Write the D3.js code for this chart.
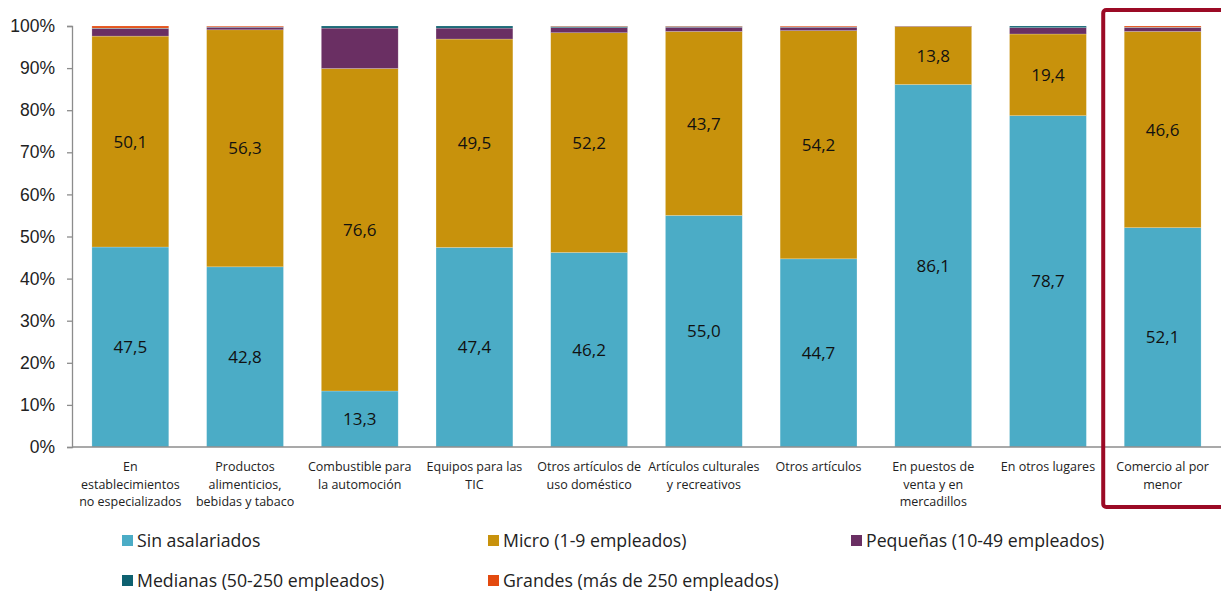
<!DOCTYPE html>
<html>
<head>
<meta charset="utf-8">
<script src="https://cdn.jsdelivr.net/npm/d3@7/dist/d3.min.js"></script>
<style>
  body { margin: 0; background: #fff; }
  svg { display: block; font-family: "Open Sans", "Noto Sans", sans-serif; }
</style>
</head>
<body>
<svg id="chart" width="1221" height="592"></svg>
<script>
// Categorías de comercio al por menor
const categories = [
  "En establecimientos no especializados",
  "Productos alimenticios, bebidas y tabaco",
  "Combustible para la automoción",
  "Equipos para las TIC",
  "Otros artículos de uso doméstico",
  "Artículos culturales y recreativos",
  "Otros artículos",
  "En puestos de venta y en mercadillos",
  "En otros lugares",
  "Comercio al por menor"
];
// Líneas de cada etiqueta del eje X
const categoryLines = [
  ["En", "establecimientos", "no especializados"],
  ["Productos", "alimenticios,", "bebidas y tabaco"],
  ["Combustible para", "la automoción"],
  ["Equipos para las", "TIC"],
  ["Otros artículos de", "uso doméstico"],
  ["Artículos culturales", "y recreativos"],
  ["Otros artículos"],
  ["En puestos de", "venta y en", "mercadillos"],
  ["En otros lugares"],
  ["Comercio al por", "menor"]
];

const seriesNames = [
  "Sin asalariados",
  "Micro (1-9 empleados)",
  "Pequeñas (10-49 empleados)",
  "Medianas (50-250 empleados)",
  "Grandes (más de 250 empleados)"
];
const seriesColors = ["#4bacc6", "#c8920c", "#6a2f63", "#0e6170", "#e34a0f"];

// Porcentaje de empresas por tamaño
const sinAsalariados = [47.5, 42.8, 13.3, 47.4, 46.2, 55.0, 44.7, 86.1, 78.7, 52.1];
const micro          = [50.1, 56.3, 76.6, 49.5, 52.2, 43.7, 54.2, 13.8, 19.4, 46.6];
const pequenas       = [1.8, 0.6, 9.6, 2.6, 1.2, 1.0, 0.8, 0.1, 1.5, 0.9];
const medianas       = [0.1, 0.1, 0.5, 0.5, 0.3, 0.2, 0.1, 0.0, 0.4, 0.1];
const grandes        = [0.5, 0.2, 0.0, 0.0, 0.1, 0.1, 0.2, 0.0, 0.0, 0.3];

const yTicks = [0, 10, 20, 30, 40, 50, 60, 70, 80, 90, 100];
const labelledSeries = [0, 1]; // series with value labels

const seriesValues = [sinAsalariados, micro, pequenas, medianas, grandes];
const keys = ["s0", "s1", "s2", "s3", "s4"];
const table = categories.map((c, i) => {
  const row = { cat: c };
  keys.forEach((k, j) => row[k] = seriesValues[j][i]);
  return row;
});

const svg = d3.select("#chart");
const margin = { left: 72, right: 1, top: 26, bottom: 145 };
const W = 1221, H = 592;
const x = d3.scaleBand().domain(categories).range([margin.left + 1, W - margin.right]).paddingInner(0.33).paddingOuter(0.165);
const y = d3.scaleLinear().domain([0, 100]).range([H - margin.bottom, margin.top]);

const stack = d3.stack().keys(keys);
const stacked = stack(table);
const fmt = v => d3.format(".1f")(v).replace(".", ",");

// Barras apiladas
const g = svg.append("g");
g.selectAll("g.serie").data(stacked).join("g")
  .attr("class", "serie")
  .attr("fill", (d, i) => seriesColors[i])
  .selectAll("rect").data(d => d).join("rect")
  .attr("x", d => x(d.data.cat))
  .attr("width", x.bandwidth())
  .attr("y", d => y(d[1]))
  .attr("height", d => Math.max(0, y(d[0]) - y(d[1])))
  .attr("stroke", "rgba(255,255,255,0.35)")
  .attr("stroke-width", 0.6);

// Etiquetas de valor
labelledSeries.forEach(si => {
  g.append("g").selectAll("text").data(stacked[si]).join("text")
    .attr("x", d => x(d.data.cat) + x.bandwidth() / 2)
    .attr("y", d => y((d[0] + d[1]) / 2))
    .attr("dy", "0.36em")
    .attr("text-anchor", "middle")
    .attr("font-size", 17)
    .attr("fill", "#111")
    .text(d => fmt(d[1] - d[0]));
});

// Eje Y
const yAxis = d3.axisLeft(y).tickValues(yTicks).tickSize(5).tickPadding(12).tickFormat(d => d + "%");
const yg = svg.append("g").attr("transform", `translate(${margin.left},0)`).call(yAxis);
yg.select(".domain").attr("stroke", "#8c8c8c").attr("stroke-width", 1.3);
yg.selectAll(".tick line").attr("stroke", "#8c8c8c").attr("stroke-width", 1.3);
yg.selectAll(".tick text").attr("font-size", 17.5).attr("fill", "#222").attr("font-family", "inherit");

// Eje X
svg.append("line")
  .attr("x1", margin.left).attr("x2", W)
  .attr("y1", y(0)).attr("y2", y(0))
  .attr("stroke", "#8c8c8c").attr("stroke-width", 1.5);

const xl = svg.append("g");
categories.forEach((c, i) => {
  const t = xl.append("text")
    .attr("x", x(c) + x.bandwidth() / 2)
    .attr("y", y(0) + 24)
    .attr("text-anchor", "middle")
    .attr("font-size", 12.5)
    .attr("fill", "#222");
  categoryLines[i].forEach((ln, j) => {
    t.append("tspan").attr("x", x(c) + x.bandwidth() / 2).attr("dy", j === 0 ? 0 : 17.5).text(ln);
  });
});

// Recuadro del total
const last = categories[categories.length - 1];
svg.append("rect")
  .attr("x", x(last) - 21)
  .attr("y", 10)
  .attr("width", 140)
  .attr("height", 497)
  .attr("rx", 3)
  .attr("fill", "none")
  .attr("stroke", "#9b0a25")
  .attr("stroke-width", 4);

// Leyenda
const legendPos = [[122, 541], [488, 541], [851, 541], [122, 581], [488, 581]];
const lg = svg.append("g");
seriesNames.forEach((n, i) => {
  const [lx, ly] = legendPos[i];
  lg.append("rect").attr("x", lx).attr("y", ly - 6).attr("width", 11).attr("height", 11).attr("fill", seriesColors[i]);
  lg.append("text").attr("x", lx + 15).attr("y", ly).attr("dy", "0.35em")
    .attr("font-size", 17.7).attr("fill", "#222").text(n);
});
</script>
</body>
</html>
